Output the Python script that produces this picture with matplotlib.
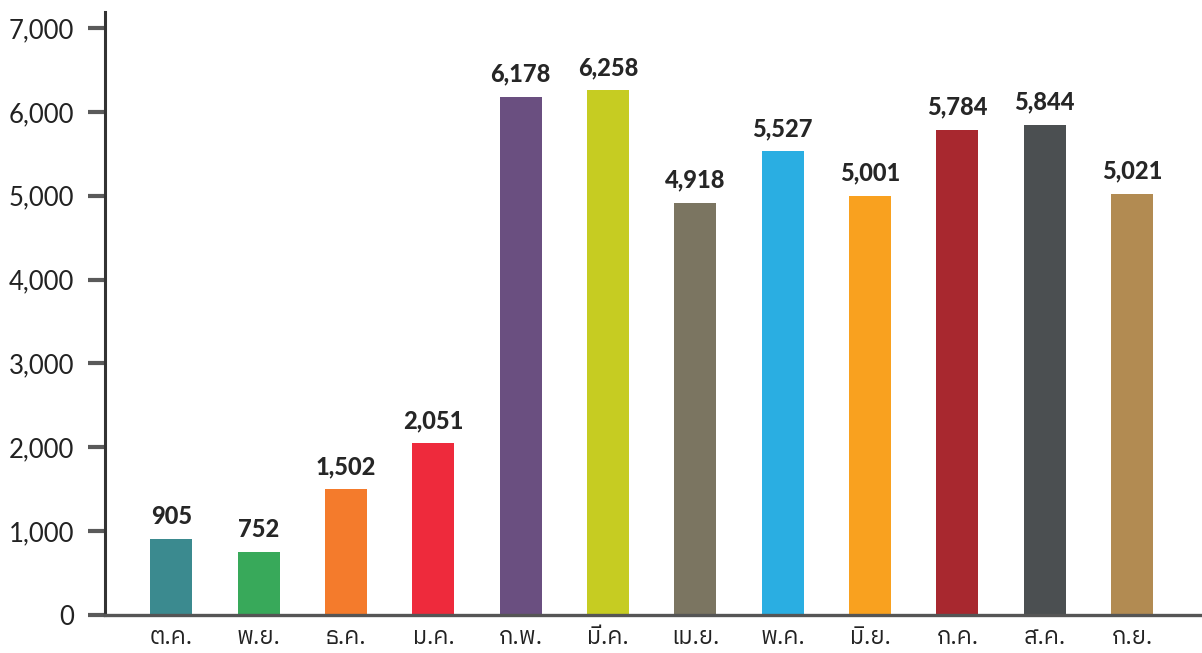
import matplotlib
matplotlib.use("Agg")
import matplotlib.pyplot as plt
from matplotlib import font_manager, ft2font
from matplotlib.ticker import FuncFormatter

months = ["ต.ค.", "พ.ย.", "ธ.ค.", "ม.ค.", "ก.พ.", "มี.ค.", "เม.ย.", "พ.ค.", "มิ.ย.", "ก.ค.", "ส.ค.", "ก.ย."]
values = [905, 752, 1502, 2051, 6178, 6258, 4918, 5527, 5001, 5784, 5844, 5021]
colors = ["#3b8a8f", "#38a95a", "#f47b2c", "#ee2a3c", "#6a4f80", "#c6cc22",
          "#7b7561", "#2aaee2", "#f9a11f", "#a8282f", "#4b4f51", "#b28b52"]
yticks = [0, 1000, 2000, 3000, 4000, 5000, 6000, 7000]


def find_thai_font():
    best = None
    for f in font_manager.fontManager.ttflist:
        try:
            cmap = ft2font.FT2Font(f.fname).get_charmap()
        except Exception:
            continue
        if 0x0E01 in cmap and 0x0E04 in cmap:
            score = 0
            if "thai" in f.name.lower():
                score += 2
            if f.weight in (400, "normal", "regular"):
                score += 1
            if "italic" in f.style:
                score -= 5
            if best is None or score > best[0]:
                best = (score, f.name)
    return best[1] if best else "DejaVu Sans"


thai_font = find_thai_font()
num_font = ["Lato", "DejaVu Sans"]

fig = plt.figure(figsize=(12.02, 6.53), dpi=100)
ax = fig.add_axes([0.0874, 0.0582, 0.9126, 0.9234])

x = list(range(len(values)))
ax.bar(x, values, width=0.48, color=colors, zorder=2)

for xi, v in zip(x, values):
    ax.annotate(f"{v:,}", (xi, v), xytext=(0, 8), textcoords="offset points",
                ha="center", va="bottom", fontsize=17, fontweight=900,
                color="#262626", family=num_font)

ax.set_xlim(-0.76, 11.8)
ax.set_ylim(0, 7190)
ax.set_yticks(yticks)
ax.yaxis.set_major_formatter(FuncFormatter(lambda v, p: f"{int(v):,}"))
ax.set_xticks(x)
ax.set_xticklabels(months, family=[thai_font, "DejaVu Sans"], fontsize=17, color="#222222")
for lab in ax.get_yticklabels():
    lab.set_family(num_font)
    lab.set_fontsize(18.5)
    lab.set_color("#222222")

ax.tick_params(axis="y", length=12, width=3, color="#5a5a5a", pad=10, direction="out")
ax.tick_params(axis="x", length=0, pad=8)

for s in ["top", "right"]:
    ax.spines[s].set_visible(False)
ax.spines["left"].set_linewidth(2.2)
ax.spines["left"].set_color("#333333")
ax.spines["bottom"].set_linewidth(2.4)
ax.spines["bottom"].set_color("#555555")
ax.spines["left"].set_zorder(3)
ax.spines["bottom"].set_zorder(3)

fig.savefig("out.png", dpi=100)
